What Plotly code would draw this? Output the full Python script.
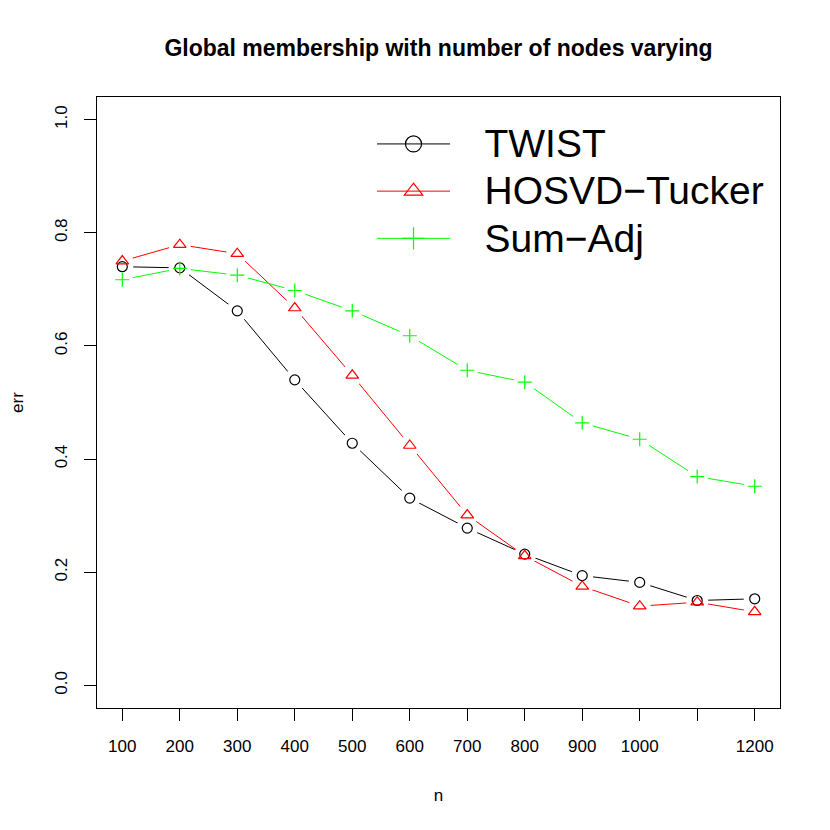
import plotly.graph_objects as go

n_values = [100, 200, 300, 400, 500, 600, 700, 800, 900, 1000, 1100, 1200]
twist = [0.740, 0.738, 0.662, 0.540, 0.428, 0.331, 0.278, 0.232, 0.194, 0.182, 0.150, 0.153]
hosvd_tucker = [0.750, 0.779, 0.763, 0.667, 0.548, 0.424, 0.301, 0.229, 0.175, 0.140, 0.147, 0.130]
sum_adj = [0.717, 0.737, 0.725, 0.698, 0.662, 0.618, 0.557, 0.536, 0.464, 0.435, 0.369, 0.352]

x_tick_vals = [100, 200, 300, 400, 500, 600, 700, 800, 900, 1000, 1100, 1200]
x_tick_text = ["100", "200", "300", "400", "500", "600", "700", "800", "900", "1000", "", "1200"]
y_tick_vals = [0.0, 0.2, 0.4, 0.6, 0.8, 1.0]
y_tick_text = ["0.0", "0.2", "0.4", "0.6", "0.8", "1.0"]

series = [
    ("TWIST", twist, "#000000", "circle-open", 10, 16),
    ("HOSVD\u2212Tucker", hosvd_tucker, "#FF0000", "triangle-up-open", 11, 16),
    ("Sum\u2212Adj", sum_adj, "#00FF00", "cross-thin-open", 10, 16),
]

HALO = "white"  # gap around points, like R type="b"
FONT = "Liberation Sans, Arial, Helvetica, sans-serif"
fig = go.Figure()

for name, vals, color, sym, size, lsize in series:
    fig.add_trace(go.Scatter(x=n_values, y=vals, mode="lines",
                             line=dict(color=color, width=1), showlegend=False,
                             hoverinfo="skip"))
    fig.add_trace(go.Scatter(x=n_values, y=vals, mode="markers",
                             marker=dict(symbol="circle", size=22, color=HALO,
                                         line=dict(width=0)),
                             showlegend=False, hoverinfo="skip"))

for name, vals, color, sym, size, lsize in series:
    fig.add_trace(go.Scatter(x=n_values, y=vals, mode="markers", name=name,
                             marker=dict(symbol=sym, size=size, color=color,
                                         line=dict(color=color, width=1.2)),
                             showlegend=False))

for name, vals, color, sym, size, lsize in series:
    fig.add_trace(go.Scatter(x=[None], y=[None], mode="lines+markers",
                             name="<span style='font-size:39px'>\u00a0\u00a0\u2009" + name + "</span>",
                             line=dict(color=color, width=1),
                             marker=dict(symbol=sym, size=lsize, color=color,
                                         line=dict(color=color, width=1.2)),
                             showlegend=True))

fig.update_layout(
    width=830, height=830,
    margin=dict(l=97, r=50, t=97, b=122),
    paper_bgcolor="white", plot_bgcolor="white",
    font=dict(family=FONT, color="black", size=17),
    title=dict(text="<b>Global membership with number of nodes varying</b>",
               x=(97 + 780) / 2 / 830, xanchor="center",
               y=1 - 48 / 830, yanchor="middle", yref="container",
               font=dict(size=23, family=FONT, color="black")),
    showlegend=True,
    legend=dict(x=(372 - 97) / 683, y=0.970, xanchor="left", yanchor="top",
                bgcolor="rgba(0,0,0,0)", borderwidth=0,
                font=dict(size=34, family=FONT, color="black"),
                itemwidth=73, tracegroupgap=0),
)
fig.update_xaxes(range=[56, 1244], tickmode="array", tickvals=x_tick_vals,
                 ticktext=x_tick_text, ticks="outside", ticklen=12,
                 tickcolor="black", showline=True, linecolor="black",
                 linewidth=1, mirror=True, showgrid=False, zeroline=False,
                 ticklabelstandoff=11,
                 title=dict(text="n", standoff=33, font=dict(size=17)))
fig.update_yaxes(range=[-0.04, 1.04], tickmode="array", tickvals=y_tick_vals,
                 ticktext=y_tick_text, ticks="outside", ticklen=12,
                 tickcolor="black", tickangle=-90, showline=True,
                 linecolor="black", linewidth=1, mirror=True, showgrid=False,
                 zeroline=False, ticklabelstandoff=10,
                 title=dict(text="err", standoff=24, font=dict(size=17)))

fig.write_html("out.html", post_script="document.body.style.margin='0';",
               config={"displayModeBar": False})
